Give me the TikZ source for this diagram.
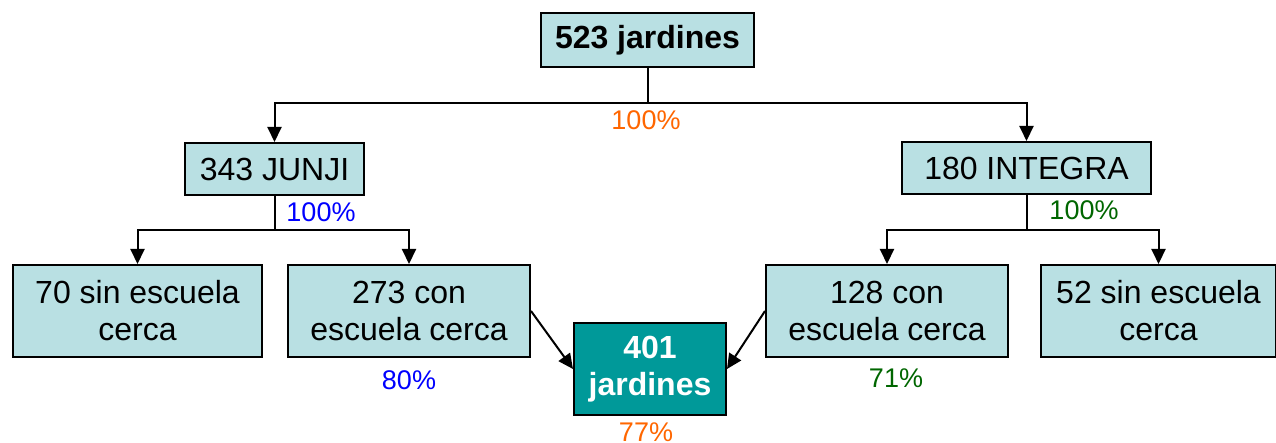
\documentclass[tikz,border=0pt]{standalone}
\usepackage{fontspec}
\setmainfont{Liberation Sans}
\usetikzlibrary{arrows.meta}
\definecolor{boxblue}{HTML}{B9E0E3}
\definecolor{teal2}{HTML}{009999}
\definecolor{orng}{HTML}{FF6600}
\definecolor{blu}{HTML}{0000FF}
\definecolor{grn}{HTML}{006600}
\begin{document}
\begin{tikzpicture}[x=1pt,y=-1pt,
  box/.style={draw=black, line width=2pt, fill=boxblue, font=\fontsize{32}{37}\selectfont, align=center, inner sep=0pt},
  line/.style={line width=2pt},
  conn/.style={line width=2pt, -{Triangle[length=15pt,width=14pt]}},
  pct/.style={font=\fontsize{27}{30}\selectfont, inner sep=0pt}]
\useasboundingbox (0,0) rectangle (1276,443);
\node[box, minimum width=213pt, minimum height=54pt, font=\bfseries\fontsize{32}{37}\selectfont] (top) at (647.5,40) {523 jardines};
\node[box, minimum width=179pt, minimum height=52pt] (junji) at (274.5,169) {343 JUNJI};
\node[box, minimum width=249pt, minimum height=52pt] (integra) at (1026.5,168) {180 INTEGRA};
\node[box, minimum width=249pt, minimum height=92pt] (b1) at (137.5,311) {70 sin escuela\\cerca};
\node[box, minimum width=242pt, minimum height=92pt] (b2) at (409,311) {273 con\\escuela cerca};
\node[box, minimum width=242pt, minimum height=92pt] (b3) at (887,311) {128 con\\escuela cerca};
\node[box, minimum width=235pt, minimum height=92pt] (b4) at (1158.5,311) {52 sin escuela\\cerca};
\node[box, fill=teal2, text=white, minimum width=152pt, minimum height=92pt, font=\bfseries\fontsize{32}{37}\selectfont] (res) at (650,369) {401\\jardines};
\coordinate (tj) at (647.5,103);
\coordinate (jj) at (274.5,230);
\coordinate (ij) at (1026.5,230);
\draw[line] (top.south) -- (tj);
\draw[conn] (tj) -| (junji.north);
\draw[conn] (tj) -| (integra.north);
\draw[line] (junji.south) -- (jj);
\draw[conn] (jj) -| (b1.north);
\draw[conn] (jj) -| (b2.north);
\draw[line] (integra.south) -- (ij);
\draw[conn] (ij) -| (b3.north);
\draw[conn] (ij) -| (b4.north);
\draw[conn] (b2.east) -- (res.west);
\draw[conn] (b3.west) -- (res.east);
\node[pct, text=orng] (p0) at (646,120) {100\%};
\node[pct, text=blu] (p1) at (321,212) {100\%};
\node[pct, text=grn] (p2) at (1084,210) {100\%};
\node[pct, text=blu] (p3) at (409,380) {80\%};
\node[pct, text=grn] (p4) at (896,378) {71\%};
\node[pct, text=orng] (p5) at (646,432) {77\%};
\end{tikzpicture}
\end{document}
